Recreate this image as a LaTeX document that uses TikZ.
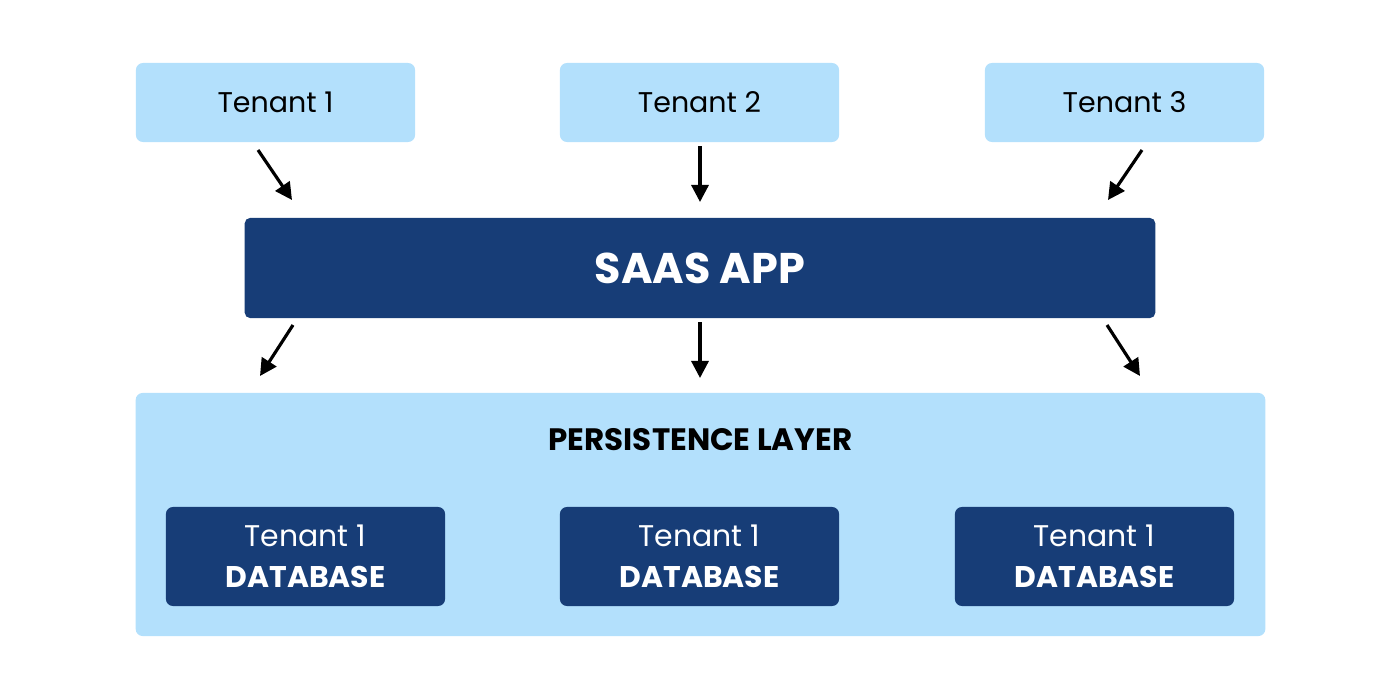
\documentclass[tikz,border=0pt]{standalone}
\usepackage{fontspec}
\setmainfont{Poppins}
\usepackage{xcolor}
\usepackage{tikz}
\usetikzlibrary{arrows.meta, positioning}

\definecolor{lightsky}{HTML}{B3E0FC}
\definecolor{navy}{HTML}{173D77}

\begin{document}
\begin{tikzpicture}[
  x=0.01cm, y=-0.01cm,
  tenant/.style={rectangle, fill=lightsky, rounded corners=2pt, minimum width=2.79cm, minimum height=0.79cm, font=\fontsize{8.1}{10}\selectfont},
  app/.style={rectangle, fill=navy, rounded corners=1.5pt, minimum width=9.1cm, minimum height=1cm, text=white, font=\fontsize{12.2}{14}\selectfont\bfseries},
  layer/.style={rectangle, fill=lightsky, rounded corners=2pt, minimum width=11.29cm, minimum height=2.43cm},
  dbbox/.style={rectangle, fill=navy, rounded corners=2pt, minimum width=2.79cm, minimum height=0.99cm, text=white, align=center, font=\fontsize{8.5}{11.7}\selectfont},
  arr/.style={draw, line width=0.9pt, -{Triangle[length=0.17cm, width=0.17cm]}}
  ]
\useasboundingbox (0,0) rectangle (1400,700);

% Nodes
\node[tenant] (t1) at (275.5,102.5) {Tenant 1};
\node[tenant] (t2) at (699.5,102.5) {Tenant 2};
\node[tenant] (t3) at (1124.5,102.5) {Tenant 3};
\node[app] (saas) at (700,268) {SAAS APP};
\node[layer] (persist) at (700.5,514.5) {};
\node[font=\fontsize{8.8}{10}\selectfont\bfseries] (title) at (700.5,440) {PERSISTENCE LAYER};
\node[dbbox] (db1) at (305.5,556.5) {Tenant 1\\\textbf{DATABASE}};
\node[dbbox] (db2) at (699.5,556.5) {Tenant 1\\\textbf{DATABASE}};
\node[dbbox] (db3) at (1094.5,556.5) {Tenant 1\\\textbf{DATABASE}};

% Arrow ends
\coordinate (t1s) at (258,150);  \coordinate (a1n) at (292,200);
\coordinate (t2s) at (700,146);  \coordinate (a2n) at (700,202);
\coordinate (t3s) at (1142,150); \coordinate (a3n) at (1108,200);
\coordinate (a1s) at (293,325);  \coordinate (p1n) at (260,376);
\coordinate (a2s) at (700,322);  \coordinate (p2n) at (700,378);
\coordinate (a3s) at (1107,325); \coordinate (p3n) at (1140,376);

% Edges
\path[arr] (t1s) -- (a1n);
\path[arr] (t2s) -- (a2n);
\path[arr] (t3s) -- (a3n);
\path[arr] (a1s) -- (p1n);
\path[arr] (a2s) -- (p2n);
\path[arr] (a3s) -- (p3n);

\end{tikzpicture}
\end{document}
